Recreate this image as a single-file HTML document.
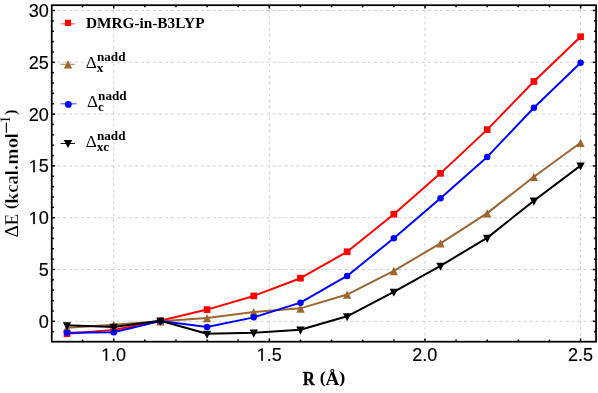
<!DOCTYPE html>
<html><head><meta charset="utf-8"><title>chart</title>
<style>html,body{margin:0;padding:0;background:#fff;}body{width:598px;height:393px;overflow:hidden;position:relative;font-family:"Liberation Sans",sans-serif;}svg{position:absolute;left:0;top:0;display:block;will-change:transform;opacity:0.999}
.tk{font-family:"Liberation Sans",sans-serif;font-size:17.6px;fill:#000}
.sb{font-family:"Liberation Serif",serif;font-weight:bold;fill:#000}
.sr{font-family:"Liberation Serif",serif;font-weight:normal;fill:#000}
</style></head><body>
<svg width="598" height="393" viewBox="0 0 598 393">
<rect x="0" y="0" width="598" height="393" fill="#ffffff"/>
<g stroke="#d0d0d0" stroke-width="1" stroke-dasharray="2.99 2.99" fill="none">
<line x1="113.70" y1="341.70" x2="113.70" y2="5.20"/>
<line x1="269.32" y1="341.70" x2="269.32" y2="5.20"/>
<line x1="424.95" y1="341.70" x2="424.95" y2="5.20"/>
<line x1="580.58" y1="341.70" x2="580.58" y2="5.20"/>
<line x1="51.30" y1="321.30" x2="596.05" y2="321.30"/>
<line x1="51.30" y1="269.50" x2="596.05" y2="269.50"/>
<line x1="51.30" y1="217.70" x2="596.05" y2="217.70"/>
<line x1="51.30" y1="165.90" x2="596.05" y2="165.90"/>
<line x1="51.30" y1="114.10" x2="596.05" y2="114.10"/>
<line x1="51.30" y1="62.30" x2="596.05" y2="62.30"/>
<line x1="51.30" y1="10.50" x2="596.05" y2="10.50"/>
</g>
<polyline points="67.01,333.73 113.70,330.00 160.39,320.78 207.08,309.59 253.76,295.92 300.45,278.20 347.14,251.78 393.82,214.18 440.51,173.36 487.20,129.64 533.89,81.47 580.58,36.71" fill="none" stroke="#ff0000" stroke-width="2.0" stroke-linejoin="round"/>
<rect x="63.66" y="330.38" width="6.70" height="6.70" fill="#ff0000"/>
<rect x="110.35" y="326.65" width="6.70" height="6.70" fill="#ff0000"/>
<rect x="157.04" y="317.43" width="6.70" height="6.70" fill="#ff0000"/>
<rect x="203.73" y="306.24" width="6.70" height="6.70" fill="#ff0000"/>
<rect x="250.41" y="292.57" width="6.70" height="6.70" fill="#ff0000"/>
<rect x="297.10" y="274.85" width="6.70" height="6.70" fill="#ff0000"/>
<rect x="343.79" y="248.43" width="6.70" height="6.70" fill="#ff0000"/>
<rect x="390.47" y="210.83" width="6.70" height="6.70" fill="#ff0000"/>
<rect x="437.16" y="170.01" width="6.70" height="6.70" fill="#ff0000"/>
<rect x="483.85" y="126.29" width="6.70" height="6.70" fill="#ff0000"/>
<rect x="530.54" y="78.12" width="6.70" height="6.70" fill="#ff0000"/>
<rect x="577.23" y="33.36" width="6.70" height="6.70" fill="#ff0000"/>
<polyline points="67.01,327.72 113.70,324.72 160.39,321.30 207.08,317.98 253.76,311.98 300.45,308.35 347.14,294.57 393.82,270.85 440.51,243.29 487.20,213.14 533.89,176.78 580.58,142.80" fill="none" stroke="#9b6632" stroke-width="2.0" stroke-linejoin="round"/>
<polygon points="67.01,323.72 62.86,332.02 71.16,332.02" fill="#9b6632"/>
<polygon points="113.70,320.72 109.55,329.02 117.85,329.02" fill="#9b6632"/>
<polygon points="160.39,317.30 156.24,325.60 164.54,325.60" fill="#9b6632"/>
<polygon points="207.08,313.98 202.93,322.28 211.23,322.28" fill="#9b6632"/>
<polygon points="253.76,307.98 249.61,316.28 257.91,316.28" fill="#9b6632"/>
<polygon points="300.45,304.35 296.30,312.65 304.60,312.65" fill="#9b6632"/>
<polygon points="347.14,290.57 342.99,298.87 351.29,298.87" fill="#9b6632"/>
<polygon points="393.82,266.85 389.68,275.15 397.97,275.15" fill="#9b6632"/>
<polygon points="440.51,239.29 436.36,247.59 444.66,247.59" fill="#9b6632"/>
<polygon points="487.20,209.14 483.05,217.44 491.35,217.44" fill="#9b6632"/>
<polygon points="533.89,172.78 529.74,181.08 538.04,181.08" fill="#9b6632"/>
<polygon points="580.58,138.80 576.43,147.10 584.73,147.10" fill="#9b6632"/>
<polyline points="67.01,332.70 113.70,332.18 160.39,320.99 207.08,327.00 253.76,317.36 300.45,302.65 347.14,275.92 393.82,238.21 440.51,198.33 487.20,156.89 533.89,107.78 580.58,62.71" fill="none" stroke="#0000ff" stroke-width="2.0" stroke-linejoin="round"/>
<circle cx="67.01" cy="332.70" r="3.25" fill="#0000ff"/>
<circle cx="113.70" cy="332.18" r="3.25" fill="#0000ff"/>
<circle cx="160.39" cy="320.99" r="3.25" fill="#0000ff"/>
<circle cx="207.08" cy="327.00" r="3.25" fill="#0000ff"/>
<circle cx="253.76" cy="317.36" r="3.25" fill="#0000ff"/>
<circle cx="300.45" cy="302.65" r="3.25" fill="#0000ff"/>
<circle cx="347.14" cy="275.92" r="3.25" fill="#0000ff"/>
<circle cx="393.82" cy="238.21" r="3.25" fill="#0000ff"/>
<circle cx="440.51" cy="198.33" r="3.25" fill="#0000ff"/>
<circle cx="487.20" cy="156.89" r="3.25" fill="#0000ff"/>
<circle cx="533.89" cy="107.78" r="3.25" fill="#0000ff"/>
<circle cx="580.58" cy="62.71" r="3.25" fill="#0000ff"/>
<polyline points="67.01,325.24 113.70,326.89 160.39,320.78 207.08,333.73 253.76,332.70 300.45,329.69 347.14,316.33 393.82,291.77 440.51,265.77 487.20,237.90 533.89,200.71 580.58,165.59" fill="none" stroke="#000000" stroke-width="2.0" stroke-linejoin="round"/>
<polygon points="67.01,330.24 62.81,322.14 71.21,322.14" fill="#000000"/>
<polygon points="113.70,331.89 109.50,323.79 117.90,323.79" fill="#000000"/>
<polygon points="160.39,325.78 156.19,317.68 164.59,317.68" fill="#000000"/>
<polygon points="207.08,338.73 202.88,330.63 211.28,330.63" fill="#000000"/>
<polygon points="253.76,337.70 249.56,329.60 257.96,329.60" fill="#000000"/>
<polygon points="300.45,334.69 296.25,326.59 304.65,326.59" fill="#000000"/>
<polygon points="347.14,321.33 342.94,313.23 351.34,313.23" fill="#000000"/>
<polygon points="393.82,296.77 389.62,288.67 398.02,288.67" fill="#000000"/>
<polygon points="440.51,270.77 436.31,262.67 444.71,262.67" fill="#000000"/>
<polygon points="487.20,242.90 483.00,234.80 491.40,234.80" fill="#000000"/>
<polygon points="533.89,205.71 529.69,197.61 538.09,197.61" fill="#000000"/>
<polygon points="580.58,170.59 576.38,162.49 584.78,162.49" fill="#000000"/>
<g stroke="#000" stroke-width="1.5" fill="none">
<line x1="51.75" y1="321.30" x2="55.05" y2="321.30"/>
<line x1="596.05" y1="321.30" x2="592.75" y2="321.30"/>
<line x1="51.75" y1="310.94" x2="53.85" y2="310.94"/>
<line x1="596.05" y1="310.94" x2="593.95" y2="310.94"/>
<line x1="51.75" y1="300.58" x2="53.85" y2="300.58"/>
<line x1="596.05" y1="300.58" x2="593.95" y2="300.58"/>
<line x1="51.75" y1="290.22" x2="53.85" y2="290.22"/>
<line x1="596.05" y1="290.22" x2="593.95" y2="290.22"/>
<line x1="51.75" y1="279.86" x2="53.85" y2="279.86"/>
<line x1="596.05" y1="279.86" x2="593.95" y2="279.86"/>
<line x1="51.75" y1="269.50" x2="55.05" y2="269.50"/>
<line x1="596.05" y1="269.50" x2="592.75" y2="269.50"/>
<line x1="51.75" y1="259.14" x2="53.85" y2="259.14"/>
<line x1="596.05" y1="259.14" x2="593.95" y2="259.14"/>
<line x1="51.75" y1="248.78" x2="53.85" y2="248.78"/>
<line x1="596.05" y1="248.78" x2="593.95" y2="248.78"/>
<line x1="51.75" y1="238.42" x2="53.85" y2="238.42"/>
<line x1="596.05" y1="238.42" x2="593.95" y2="238.42"/>
<line x1="51.75" y1="228.06" x2="53.85" y2="228.06"/>
<line x1="596.05" y1="228.06" x2="593.95" y2="228.06"/>
<line x1="51.75" y1="217.70" x2="55.05" y2="217.70"/>
<line x1="596.05" y1="217.70" x2="592.75" y2="217.70"/>
<line x1="51.75" y1="207.34" x2="53.85" y2="207.34"/>
<line x1="596.05" y1="207.34" x2="593.95" y2="207.34"/>
<line x1="51.75" y1="196.98" x2="53.85" y2="196.98"/>
<line x1="596.05" y1="196.98" x2="593.95" y2="196.98"/>
<line x1="51.75" y1="186.62" x2="53.85" y2="186.62"/>
<line x1="596.05" y1="186.62" x2="593.95" y2="186.62"/>
<line x1="51.75" y1="176.26" x2="53.85" y2="176.26"/>
<line x1="596.05" y1="176.26" x2="593.95" y2="176.26"/>
<line x1="51.75" y1="165.90" x2="55.05" y2="165.90"/>
<line x1="596.05" y1="165.90" x2="592.75" y2="165.90"/>
<line x1="51.75" y1="155.54" x2="53.85" y2="155.54"/>
<line x1="596.05" y1="155.54" x2="593.95" y2="155.54"/>
<line x1="51.75" y1="145.18" x2="53.85" y2="145.18"/>
<line x1="596.05" y1="145.18" x2="593.95" y2="145.18"/>
<line x1="51.75" y1="134.82" x2="53.85" y2="134.82"/>
<line x1="596.05" y1="134.82" x2="593.95" y2="134.82"/>
<line x1="51.75" y1="124.46" x2="53.85" y2="124.46"/>
<line x1="596.05" y1="124.46" x2="593.95" y2="124.46"/>
<line x1="51.75" y1="114.10" x2="55.05" y2="114.10"/>
<line x1="596.05" y1="114.10" x2="592.75" y2="114.10"/>
<line x1="51.75" y1="103.74" x2="53.85" y2="103.74"/>
<line x1="596.05" y1="103.74" x2="593.95" y2="103.74"/>
<line x1="51.75" y1="93.38" x2="53.85" y2="93.38"/>
<line x1="596.05" y1="93.38" x2="593.95" y2="93.38"/>
<line x1="51.75" y1="83.02" x2="53.85" y2="83.02"/>
<line x1="596.05" y1="83.02" x2="593.95" y2="83.02"/>
<line x1="51.75" y1="72.66" x2="53.85" y2="72.66"/>
<line x1="596.05" y1="72.66" x2="593.95" y2="72.66"/>
<line x1="51.75" y1="62.30" x2="55.05" y2="62.30"/>
<line x1="596.05" y1="62.30" x2="592.75" y2="62.30"/>
<line x1="51.75" y1="51.94" x2="53.85" y2="51.94"/>
<line x1="596.05" y1="51.94" x2="593.95" y2="51.94"/>
<line x1="51.75" y1="41.58" x2="53.85" y2="41.58"/>
<line x1="596.05" y1="41.58" x2="593.95" y2="41.58"/>
<line x1="51.75" y1="31.22" x2="53.85" y2="31.22"/>
<line x1="596.05" y1="31.22" x2="593.95" y2="31.22"/>
<line x1="51.75" y1="20.86" x2="53.85" y2="20.86"/>
<line x1="596.05" y1="20.86" x2="593.95" y2="20.86"/>
<line x1="51.75" y1="10.50" x2="55.05" y2="10.50"/>
<line x1="596.05" y1="10.50" x2="592.75" y2="10.50"/>
<line x1="51.75" y1="331.66" x2="53.85" y2="331.66"/>
<line x1="596.05" y1="331.66" x2="593.95" y2="331.66"/>
<line x1="82.58" y1="341.70" x2="82.58" y2="339.60"/>
<line x1="82.58" y1="5.20" x2="82.58" y2="7.30"/>
<line x1="113.70" y1="341.70" x2="113.70" y2="338.40"/>
<line x1="113.70" y1="5.20" x2="113.70" y2="8.50"/>
<line x1="144.83" y1="341.70" x2="144.83" y2="339.60"/>
<line x1="144.83" y1="5.20" x2="144.83" y2="7.30"/>
<line x1="175.95" y1="341.70" x2="175.95" y2="339.60"/>
<line x1="175.95" y1="5.20" x2="175.95" y2="7.30"/>
<line x1="207.08" y1="341.70" x2="207.08" y2="339.60"/>
<line x1="207.08" y1="5.20" x2="207.08" y2="7.30"/>
<line x1="238.20" y1="341.70" x2="238.20" y2="339.60"/>
<line x1="238.20" y1="5.20" x2="238.20" y2="7.30"/>
<line x1="269.32" y1="341.70" x2="269.32" y2="338.40"/>
<line x1="269.32" y1="5.20" x2="269.32" y2="8.50"/>
<line x1="300.45" y1="341.70" x2="300.45" y2="339.60"/>
<line x1="300.45" y1="5.20" x2="300.45" y2="7.30"/>
<line x1="331.57" y1="341.70" x2="331.57" y2="339.60"/>
<line x1="331.57" y1="5.20" x2="331.57" y2="7.30"/>
<line x1="362.70" y1="341.70" x2="362.70" y2="339.60"/>
<line x1="362.70" y1="5.20" x2="362.70" y2="7.30"/>
<line x1="393.82" y1="341.70" x2="393.82" y2="339.60"/>
<line x1="393.82" y1="5.20" x2="393.82" y2="7.30"/>
<line x1="424.95" y1="341.70" x2="424.95" y2="338.40"/>
<line x1="424.95" y1="5.20" x2="424.95" y2="8.50"/>
<line x1="456.07" y1="341.70" x2="456.07" y2="339.60"/>
<line x1="456.07" y1="5.20" x2="456.07" y2="7.30"/>
<line x1="487.20" y1="341.70" x2="487.20" y2="339.60"/>
<line x1="487.20" y1="5.20" x2="487.20" y2="7.30"/>
<line x1="518.32" y1="341.70" x2="518.32" y2="339.60"/>
<line x1="518.32" y1="5.20" x2="518.32" y2="7.30"/>
<line x1="549.45" y1="341.70" x2="549.45" y2="339.60"/>
<line x1="549.45" y1="5.20" x2="549.45" y2="7.30"/>
<line x1="580.58" y1="341.70" x2="580.58" y2="338.40"/>
<line x1="580.58" y1="5.20" x2="580.58" y2="8.50"/>
</g>
<rect x="51.75" y="5.20" width="544.30" height="336.50" fill="none" stroke="#000" stroke-width="1.75"/>
<text class="tk" transform="translate(38.72,327.70) scale(1.030,1)" stroke="#000" stroke-width="0.15">0</text>
<text class="tk" transform="translate(38.72,275.90) scale(1.030,1)" stroke="#000" stroke-width="0.15">5</text>
<path d="M515 0V1237L197 1010V1180L530 1409H696V0Z" transform="translate(28.64,224.10) scale(0.00885,-0.00859)" fill="#000" stroke="#000" stroke-width="17.5"/>
<text class="tk" transform="translate(38.72,224.10) scale(1.030,1)" stroke="#000" stroke-width="0.15">0</text>
<path d="M515 0V1237L197 1010V1180L530 1409H696V0Z" transform="translate(28.64,172.30) scale(0.00885,-0.00859)" fill="#000" stroke="#000" stroke-width="17.5"/>
<text class="tk" transform="translate(38.72,172.30) scale(1.030,1)" stroke="#000" stroke-width="0.15">5</text>
<text class="tk" transform="translate(28.64,120.50) scale(1.030,1)" stroke="#000" stroke-width="0.15">2</text>
<text class="tk" transform="translate(38.72,120.50) scale(1.030,1)" stroke="#000" stroke-width="0.15">0</text>
<text class="tk" transform="translate(28.64,68.70) scale(1.030,1)" stroke="#000" stroke-width="0.15">2</text>
<text class="tk" transform="translate(38.72,68.70) scale(1.030,1)" stroke="#000" stroke-width="0.15">5</text>
<text class="tk" transform="translate(28.64,16.90) scale(1.030,1)" stroke="#000" stroke-width="0.15">3</text>
<text class="tk" transform="translate(38.72,16.90) scale(1.030,1)" stroke="#000" stroke-width="0.15">0</text>
<path d="M515 0V1237L197 1010V1180L530 1409H696V0Z" transform="translate(101.06,360.70) scale(0.00881,-0.00859)" fill="#000" stroke="#000" stroke-width="17.5"/>
<text class="tk" transform="translate(111.09,360.70) scale(1.025,1)" stroke="#000" stroke-width="0.15">.</text>
<text class="tk" transform="translate(116.11,360.70) scale(1.025,1)" stroke="#000" stroke-width="0.15">0</text>
<path d="M515 0V1237L197 1010V1180L530 1409H696V0Z" transform="translate(256.69,360.70) scale(0.00881,-0.00859)" fill="#000" stroke="#000" stroke-width="17.5"/>
<text class="tk" transform="translate(266.72,360.70) scale(1.025,1)" stroke="#000" stroke-width="0.15">.</text>
<text class="tk" transform="translate(271.73,360.70) scale(1.025,1)" stroke="#000" stroke-width="0.15">5</text>
<text class="tk" transform="translate(412.31,360.70) scale(1.025,1)" stroke="#000" stroke-width="0.15">2</text>
<text class="tk" transform="translate(422.34,360.70) scale(1.025,1)" stroke="#000" stroke-width="0.15">.</text>
<text class="tk" transform="translate(427.36,360.70) scale(1.025,1)" stroke="#000" stroke-width="0.15">0</text>
<text class="tk" transform="translate(567.94,360.70) scale(1.025,1)" stroke="#000" stroke-width="0.15">2</text>
<text class="tk" transform="translate(577.97,360.70) scale(1.025,1)" stroke="#000" stroke-width="0.15">.</text>
<text class="tk" transform="translate(582.98,360.70) scale(1.025,1)" stroke="#000" stroke-width="0.15">5</text>
<g transform="translate(17.9,236.8) rotate(-90)">
<text class="sr" transform="translate(-0.74,0.00) scale(1.010,1)" font-size="19.20">Δ</text>
<text stroke="#fff" stroke-width="0.3" class="sb" transform="translate(11.40,0.00) scale(0.919,1)" font-size="18.90">E</text>
<text stroke="#fff" stroke-width="0.3" class="sb" transform="translate(27.60,-2.20) scale(1.120,1)" font-size="16.60">(</text>
<text stroke="#fff" stroke-width="0.3" class="sb" transform="translate(32.69,0.00) scale(1.040,1)" font-size="19.60">k</text>
<text stroke="#fff" stroke-width="0.3" class="sb" transform="translate(44.15,0.00) scale(0.988,1)" font-size="19.20">c</text>
<text stroke="#fff" stroke-width="0.3" class="sb" transform="translate(52.19,0.00) scale(0.978,1)" font-size="19.20">a</text>
<text stroke="#fff" stroke-width="0.3" class="sb" transform="translate(61.47,0.00) scale(0.900,1)" font-size="19.70">l</text>
<text stroke="#fff" stroke-width="0.3" class="sb" transform="translate(66.51,0.00) scale(1.120,1)" font-size="19.20">.</text>
<text stroke="#fff" stroke-width="0.3" class="sb" transform="translate(72.39,0.00) scale(0.997,1)" font-size="19.20">m</text>
<text stroke="#fff" stroke-width="0.3" class="sb" transform="translate(88.60,0.00) scale(1.094,1)" font-size="19.20">o</text>
<text stroke="#fff" stroke-width="0.3" class="sb" transform="translate(98.47,0.00) scale(0.900,1)" font-size="19.70">l</text>
<text stroke="#fff" stroke-width="0.3" class="sb" transform="translate(114.13,-7.50) scale(0.900,1)" font-size="14.40">1</text>
<text stroke="#fff" stroke-width="0.3" class="sb" transform="translate(121.31,-1.70) scale(1.120,1)" font-size="16.60">)</text>
<rect x="103.9" y="-12.1" width="10.3" height="1.15" fill="#000"/>
</g>
<g transform="translate(0,384.8)">
<text class="sb" transform="translate(302.82,0.00) scale(0.900,1)" font-size="18.50" stroke="#000" stroke-width="0.30">R</text>
<text class="sb" transform="translate(319.83,-1.50) scale(1.031,1)" font-size="17.00">(</text>
<text class="sb" transform="translate(325.41,0.00) scale(1.035,1)" font-size="18.50">Å</text>
<text class="sb" transform="translate(339.04,-1.50) scale(1.120,1)" font-size="17.00">)</text>
</g>
<line x1="60.5" y1="23.85" x2="75.00" y2="23.85" stroke="#ff0000" stroke-width="1" stroke-opacity="0.70"/>
<rect x="64.90" y="19.75" width="6.20" height="6.20" fill="#ff0000"/>
<line x1="60.5" y1="64.30" x2="75.00" y2="64.30" stroke="#9b6632" stroke-width="1" stroke-opacity="0.80"/>
<polygon points="68.00,60.30 63.85,68.60 72.15,68.60" fill="#9b6632"/>
<line x1="60.5" y1="103.80" x2="76.70" y2="103.80" stroke="#0000ff" stroke-width="1" stroke-opacity="0.75"/>
<circle cx="68.30" cy="104.45" r="3.40" fill="#0000ff"/>
<line x1="60.5" y1="143.50" x2="75.00" y2="143.50" stroke="#000000" stroke-width="1" stroke-opacity="0.90"/>
<polygon points="68.00,148.10 63.80,140.00 72.20,140.00" fill="#000000"/>
<text class="sb" x="85.9" y="28.1" font-size="15.3" textLength="118.6" lengthAdjust="spacingAndGlyphs">DMRG-in-B3LYP</text>
<text class="sr" x="85.70" y="68.30" font-size="17.2">Δ</text>
<text class="sb" x="96.90" y="61.00" font-size="13.2">nadd</text>
<text class="sb" x="96.70" y="71.70" font-size="13.2">x</text>
<text class="sr" x="86.90" y="107.20" font-size="17.2">Δ</text>
<text class="sb" x="98.10" y="100.40" font-size="13.2">nadd</text>
<text class="sb" x="97.90" y="111.10" font-size="13.2">c</text>
<text class="sr" x="85.70" y="147.10" font-size="17.2">Δ</text>
<text class="sb" x="96.90" y="139.70" font-size="13.2">nadd</text>
<text class="sb" x="96.70" y="151.00" font-size="13.2">xc</text>
</svg>
</body></html>
